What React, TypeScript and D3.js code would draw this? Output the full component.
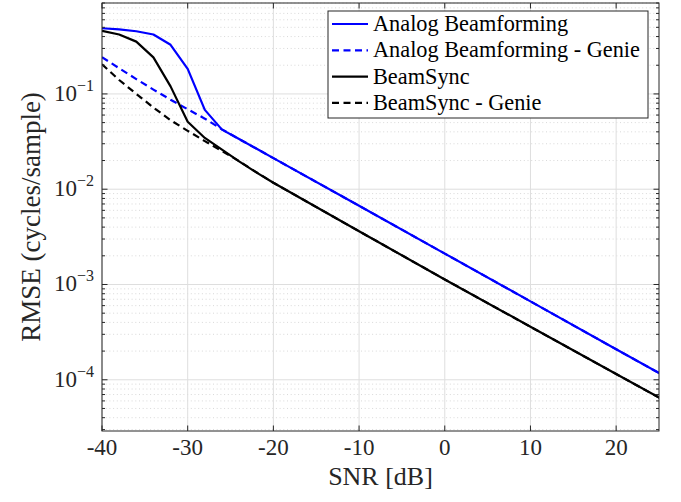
import React from 'react';
import * as d3 from 'd3';

// data (SNR in dB, RMSE in cycles/sample)
const snrAnalog = [-40, -38, -36, -34, -32, -30, -28, -26, -24, -22, -20, -10, 0, 10, 20, 26];
const rmseAnalog = [0.489, 0.475, 0.455, 0.42, 0.328, 0.183, 0.068, 0.0422, 0.0336, 0.0267, 0.0212, 0.0067, 0.00211, 6.65e-4, 2.09e-4, 1.05e-4];

const snrAnalogGenie = [-40, -38, -36, -34, -32, -30, -28, -26, -24, -22, -20, -10, 0, 10, 20, 26];
const rmseAnalogGenie = [0.243, 0.186, 0.143, 0.111, 0.087, 0.069, 0.055, 0.0425, 0.0336, 0.0267, 0.0212, 0.0067, 0.00211, 6.65e-4, 2.09e-4, 1.05e-4];

const snrBeamSync = [-40, -38, -36, -34, -32, -30, -28, -26, -24, -22, -20, -10, 0, 10, 20, 26];
const rmseBeamSync = [0.46, 0.42, 0.354, 0.242, 0.12, 0.051, 0.0345, 0.026, 0.0196, 0.015, 0.0117, 0.00362, 0.00113, 3.6e-4, 1.15e-4, 5.8e-5];

const snrBeamSyncGenie = [-40, -38, -36, -34, -32, -30, -28, -26, -24, -22, -20, -10, 0, 10, 20, 26];
const rmseBeamSyncGenie = [0.205, 0.14, 0.1, 0.072, 0.053, 0.041, 0.032, 0.0252, 0.0197, 0.0151, 0.0117, 0.00362, 0.00113, 3.6e-4, 1.15e-4, 5.8e-5];

const xTicks = [-40, -30, -20, -10, 0, 10, 20];
const yTicks = [1e-4, 1e-3, 1e-2, 1e-1];
const yTickExp = ['\u22124', '\u22123', '\u22122', '\u22121'];

const legendNames = ['Analog Beamforming', 'Analog Beamforming - Genie', 'BeamSync', 'BeamSync - Genie'];

const serif = {fontFamily: "'Liberation Serif', 'DejaVu Serif', serif"};
const axisColor = '#262626';

export default function App() {
  // plot box
  const left = 102, right = 659, top = 3, bottom = 431;

  const x = d3.scaleLinear().domain([-40, 25]).range([left, right]);
  const y = d3.scaleLog().domain([2.9e-5, 0.9]).range([bottom, top]);

  const line = d3.line<[number, number]>()
    .x(d => x(d[0]))
    .y(d => y(d[1]));

  const series = [
    {snr: snrAnalogGenie, rmse: rmseAnalogGenie, color: '#0000ff', dash: '7,4.5'},
    {snr: snrBeamSyncGenie, rmse: rmseBeamSyncGenie, color: '#000000', dash: '7,4.5'},
    {snr: snrAnalog, rmse: rmseAnalog, color: '#0000ff', dash: null},
    {snr: snrBeamSync, rmse: rmseBeamSync, color: '#000000', dash: null},
  ];

  // minor log ticks
  const minorTicks: number[] = [];
  for (let e = -5; e <= 0; e++) {
    for (let k = 2; k <= 9; k++) {
      const v = k * Math.pow(10, e);
      if (v >= 2.9e-5 && v <= 0.9) minorTicks.push(v);
    }
  }

  const legendStyles = [
    {color: '#0000ff', dash: null},
    {color: '#0000ff', dash: '7,4.5'},
    {color: '#000000', dash: null},
    {color: '#000000', dash: '7,4.5'},
  ];
  const legX = 328, legY = 11, legW = 320, legH = 107;

  return (
    <svg width={681} height={502} style={{position: 'absolute', left: 0, top: 0, background: '#fff'}}>
      <defs>
        <clipPath id="plotClip">
          <rect x={left} y={top} width={right - left} height={bottom - top} />
        </clipPath>
      </defs>
      <rect x={0} y={0} width={681} height={502} fill="#fff" />

      {/* grid */}
      {minorTicks.map((v, i) => (
        <line key={'mg' + i} x1={left} x2={right} y1={y(v)} y2={y(v)}
          stroke="#cfcfcf" strokeWidth={0.8} strokeDasharray="1,2.7" />
      ))}
      {yTicks.map((v, i) => (
        <line key={'yg' + i} x1={left} x2={right} y1={y(v)} y2={y(v)} stroke="#dedede" strokeWidth={1} />
      ))}
      {xTicks.map((v, i) => (
        <line key={'xg' + i} x1={x(v)} x2={x(v)} y1={top} y2={bottom} stroke="#dedede" strokeWidth={1} />
      ))}

      {/* curves */}
      <g clipPath="url(#plotClip)">
        {series.map((s, i) => (
          <path key={'s' + i}
            d={line(s.snr.map((v, j) => [v, s.rmse[j]] as [number, number])) || ''}
            fill="none" stroke={s.color} strokeWidth={2.2}
            strokeDasharray={s.dash || undefined} strokeLinejoin="round" />
        ))}
      </g>

      {/* box */}
      <rect x={left} y={top} width={right - left} height={bottom - top} fill="none" stroke={axisColor} strokeWidth={1} />

      {/* ticks */}
      {xTicks.map((v, i) => (
        <g key={'xt' + i}>
          <line x1={x(v)} x2={x(v)} y1={bottom} y2={bottom - 5.5} stroke={axisColor} />
          <line x1={x(v)} x2={x(v)} y1={top} y2={top + 5.5} stroke={axisColor} />
          <text x={x(v)} y={455} textAnchor="middle" fontSize={23} fill="#262626" style={serif}>{v}</text>
        </g>
      ))}
      {minorTicks.map((v, i) => (
        <g key={'mt' + i}>
          <line x1={left} x2={left + 3} y1={y(v)} y2={y(v)} stroke={axisColor} />
          <line x1={right} x2={right - 3} y1={y(v)} y2={y(v)} stroke={axisColor} />
        </g>
      ))}
      {yTicks.map((v, i) => (
        <g key={'yt' + i}>
          <line x1={left} x2={left + 5.5} y1={y(v)} y2={y(v)} stroke={axisColor} />
          <line x1={right} x2={right - 5.5} y1={y(v)} y2={y(v)} stroke={axisColor} />
          <text x={94} y={y(v) + 7} textAnchor="end" fontSize={23} fill="#262626" style={serif}>
            10<tspan dy={-10} fontSize={16}>{yTickExp[i]}</tspan>
          </text>
        </g>
      ))}

      {/* axis labels */}
      <text x={(left + right) / 2} y={485} textAnchor="middle" fontSize={26} fill="#262626" style={serif}>SNR [dB]</text>
      <text transform={`translate(40,${(top + bottom) / 2}) rotate(-90)`} textAnchor="middle" fontSize={27} fill="#262626" style={serif}>
        RMSE (cycles/sample)
      </text>

      {/* legend */}
      <rect x={legX} y={legY} width={legW} height={legH} fill="#fff" stroke={axisColor} strokeWidth={1} />
      {legendNames.map((name, i) => {
        const cy = 24 + i * 26.3;
        return (
          <g key={'lg' + i}>
            <line x1={332} x2={368} y1={cy} y2={cy} stroke={legendStyles[i].color} strokeWidth={2.2}
              strokeDasharray={legendStyles[i].dash || undefined} />
            <text x={373} y={cy + 7} fontSize={22.3} fill="#000" style={serif}>{name}</text>
          </g>
        );
      })}
    </svg>
  );
}
